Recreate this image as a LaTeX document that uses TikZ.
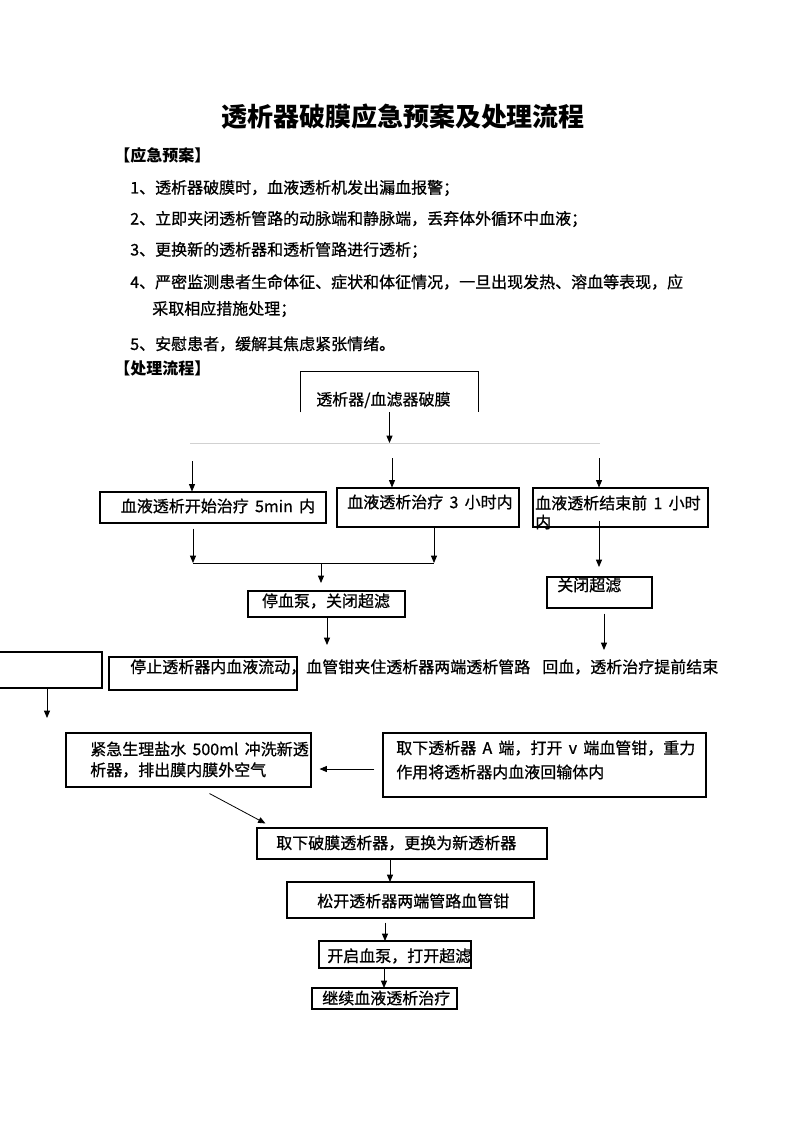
\documentclass[tikz,border=0pt]{standalone}
\usepackage{fontspec}
\setmainfont{Noto Sans CJK SC}
\newfontfamily\bodyfont{Noto Sans CJK SC}[FakeBold=0.8]
\usetikzlibrary{arrows.meta,fit,calc}
\tikzset{
  box/.style={draw=black, line width=0.8pt, inner sep=0pt, rectangle},
  ghost/.style={inner sep=0pt, rectangle},
  txt/.style={inner sep=0pt, anchor=west, font=\bodyfont\fontsize{12}{14}\selectfont},
  ctxt/.style={inner sep=0pt, font=\bodyfont\fontsize{12}{14}\selectfont},
  arr/.style={draw=black, line width=0.6pt, -{Triangle[length=5.5pt,width=4.5pt]}},
  plain/.style={draw=black, line width=0.7pt},
  grayline/.style={draw=black!18, line width=0.7pt}
}
\begin{document}
\begin{tikzpicture}[x=0.75pt,y=-0.75pt]
\useasboundingbox (0,0) rectangle (793,1122);
% title and plan
\node[inner sep=0pt, font=\fontsize{19.5}{22}\selectfont\bfseries] (title) at (403,117) {透析器破膜应急预案及处理流程};
\node[txt, font=\fontsize{12}{14}\selectfont\bfseries] (h1) at (114,155) {【应急预案】};
\node[txt] (l1) at (130,188) {1、透析器破膜时，血液透析机发出漏血报警；};
\node[txt] (l2) at (130,219) {2、立即夹闭透析管路的动脉端和静脉端，丢弃体外循环中血液；};
\node[txt] (l3) at (130,250) {3、更换新的透析器和透析管路进行透析；};
\node[txt] (l4) at (130,282) {4、严密监测患者生命体征、症状和体征情况，一旦出现发热、溶血等表现，应};
\node[txt] (l4b) at (152,309) {采取相应措施处理；};
\node[txt] (l5) at (130,344) {5、安慰患者，缓解其焦虑紧张情绪。};
\node[txt, font=\fontsize{12}{14}\selectfont\bfseries] (h2) at (114,368) {【处理流程】};
% top box (open bottom)
\node[ghost, fit={(301,372) (478,412)}] (A) {};
\draw[plain] (A.south west) -- (A.north west) -- (A.north east) -- (A.south east);
\node[txt] (At) at (316,400) {透析器/血滤器破膜};
\coordinate (gL) at (190,443);
\coordinate (gR) at (600,443);
\draw[grayline] (gL) -- (gR);
\draw[arr] (A.south) -- (A.south |- gL);
% second row
\node[box, fit={(100,492) (326,523)}] (B1) {};
\node[ctxt] (B1t) at (218,506) {血液透析开始治疗 \,5min\, 内};
\node[box, fit={(337,488) (519,527)}] (B2) {};
\node[ctxt] (B2t) at (430,502) {血液透析治疗 \,3\, 小时内};
\node[box, fit={(533,488) (708,527)}] (B3) {};
\node[txt] (B3t) at (535,503) {血液透析结束前 \,1\, 小时};
\node[txt] (B3u) at (535,522) {内};
\coordinate (s1) at (192,461);
\coordinate (s2) at (392,458);
\coordinate (s3) at (599,458);
\draw[arr] (s1) -- (s1 |- B1.north);
\draw[arr] (s2) -- (s2 |- B2.north);
\draw[arr] (s3) -- (s3 |- B3.north);
% merge
\coordinate (j1) at (193,563);
\coordinate (j2) at (434,563);
\draw[arr] ($(B1.south -| j1)+(0,5)$) -- (j1);
\draw[arr] (B2.south -| j2) -- (j2);
\draw[plain] (j1) -- (j2);
\coordinate (c1top) at (321,583);
\draw[arr] (c1top |- j1) -- (c1top);
\node[box, fit={(248,591) (405,617)}] (C1) {};
\node[ctxt] (C1t) at (326,601) {停血泵，关闭超滤};
\coordinate (dpt) at (327,645);
\draw[arr] (C1.south -| dpt) -- (dpt);
% right branch
\coordinate (c2top) at (599,567);
\draw[arr] ($(B3.south -| c2top)+(0,-7)$) -- (c2top);
\node[box, fit={(547,577) (652,608)}] (C2) {};
\node[txt] (C2t) at (557,585) {关闭超滤};
\coordinate (rb) at (604,650);
\draw[arr] ($(C2.south -| rb)+(0,5)$) -- (rb);
% row D
\node[box, fit={(-4,652) (102,688)}] (D1) {};
\node[box, fit={(109,657) (297,690)}] (D2) {};
\node[txt] (D2t) at (130,667) {停止透析器内血液流动，血管钳夹住透析器两端透析管路};
\node[txt] (D3t) at (542,667) {回血，透析治疗提前结束};
\coordinate (e1pt) at (47,718);
\draw[arr] (D1.south -| e1pt) -- (e1pt);
% row E
\node[box, fit={(66,733) (311,787)}] (E1) {};
\node[txt] (E1a) at (90,749) {紧急生理盐水 \,500ml\, 冲洗新透};
\node[txt] (E1b) at (90,770) {析器，排出膜内膜外空气};
\node[box, fit={(383,733) (706,797)}] (E2) {};
\node[txt] (E2a) at (396,748) {取下透析器 \,A\, 端，打开 \,v\, 端血管钳，重力};
\node[txt] (E2b) at (396,772) {作用将透析器内血液回输体内};
\draw[arr] ($(E2.west)+(-8,4)$) -- ($(E1.east)+(8,9)$);
% lower chain
\node[box, fit={(257,828) (547,859)}] (F1) {};
\node[txt] (F1t) at (276,843) {取下破膜透析器，更换为新透析器};
\draw[arr] ($(E1.south)+(21,6)$) -- ($(F1.north west)+(9,-4)$);
\node[box, fit={(287,882) (534,918)}] (G) {};
\node[txt] (Gt) at (317,901) {松开透析器两端管路血管钳};
\coordinate (fg) at (390,882);
\draw[arr] (F1.south -| fg) -- (fg);
\node[box, fit={(319,941) (471,968)}] (H) {};
\node[txt] (Ht) at (327,956) {开启血泵，打开超滤};
\coordinate (gh) at (385,941);
\draw[arr] ($(G.south -| gh)+(0,4)$) -- (gh);
\node[box, fit={(312,988) (457,1009)}] (I) {};
\node[txt] (It) at (322,998) {继续血液透析治疗};
\coordinate (hi) at (384,988);
\draw[arr] (H.south -| hi) -- (hi);
\end{tikzpicture}
\end{document}
